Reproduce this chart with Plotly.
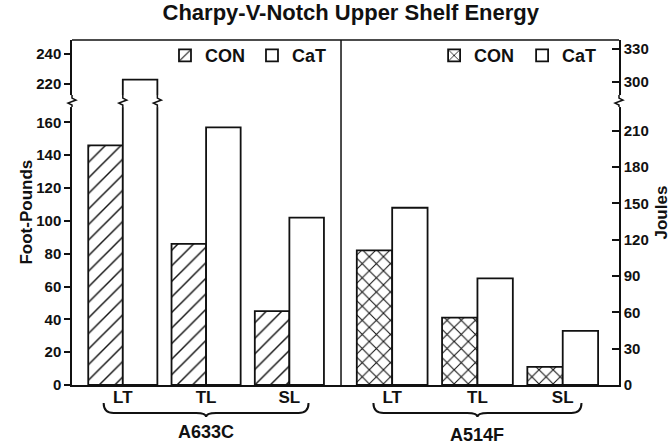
import plotly.graph_objects as go

# Charpy V-notch upper shelf energy, foot-pounds
ORIENTATIONS = ["LT", "TL", "SL"]
A633C_CON = [146, 86, 45]
A633C_CAT = [223, 157, 102]
A514F_CON = [82, 41, 11]
A514F_CAT = [108, 65, 33]

SERIES_NAMES = ["CON", "CaT"]
STEELS = ["A633C", "A514F"]

FTLB_TO_J = 1.3558

LEFT_TICKS_LOW = [0, 20, 40, 60, 80, 100, 120, 140, 160]
LEFT_TICKS_HIGH = [220, 240]
RIGHT_TICKS_LOW = [0, 30, 60, 90, 120, 150, 180, 210]
RIGHT_TICKS_HIGH = [300, 330]

# broken value axis: lower and upper segments
LOW_RANGE = [0, 173]
HIGH_RANGE = [208.7, 249.3]
BREAK = 0.823      # paper height of the axis break
SPLIT = 0.4918     # paper x of the divider between the two steels
BARGAP = 0.17

FONT = "Liberation Sans, Arial, Helvetica, sans-serif"
INK = "#111111"
EDGE = 1.8

pos = list(range(len(ORIENTATIONS)))
fig = go.Figure()

panels = [
    ("x", "x3", A633C_CON, A633C_CAT, "/", 11, 0.13, "legend"),
    ("x2", "x4", A514F_CON, A514F_CAT, "x", 10, 0.2, "legend2"),
]

for xa, xa_hi, con, cat, shape, psize, psol, leg in panels:
    con_marker = dict(
        color="white",
        line=dict(color=INK, width=EDGE),
        pattern=dict(shape=shape, fgcolor=INK, bgcolor="white",
                     size=psize, solidity=psol, fillmode="replace"),
    )
    cat_marker = dict(color="white", line=dict(color=INK, width=EDGE))
    for x_ax, y_ax, show in [(xa, "y", True), (xa_hi, "y3", False)]:
        fig.add_trace(go.Bar(x=pos, y=con, name=SERIES_NAMES[0], marker=con_marker,
                             xaxis=x_ax, yaxis=y_ax, showlegend=show, legend=leg,
                             hoverinfo="skip"))
        fig.add_trace(go.Bar(x=pos, y=cat, name=SERIES_NAMES[1], marker=cat_marker,
                             xaxis=x_ax, yaxis=y_ax, showlegend=show, legend=leg,
                             hoverinfo="skip"))

# empty traces so the Joules axes are laid out
for x_ax, y_ax in [("x2", "y2"), ("x4", "y4")]:
    fig.add_trace(go.Scatter(x=[None], y=[None], xaxis=x_ax, yaxis=y_ax, mode="markers",
                             showlegend=False, hoverinfo="skip"))

tickfont = dict(family=FONT, size=15, color=INK, weight="bold")
catfont = dict(family=FONT, size=17, color=INK, weight="bold")

xcommon = dict(range=[-0.61, 2.62], tickmode="array", tickvals=pos, ticktext=ORIENTATIONS,
               showgrid=False, zeroline=False, ticks="", tickfont=catfont,
               ticklabelstandoff=-4,
               showline=True, linecolor=INK, linewidth=1.5, fixedrange=True)

ycommon = dict(showgrid=False, zeroline=False, showline=True, linecolor=INK, linewidth=1.5,
               tickfont=tickfont, tickcolor=INK, tickwidth=1.5, fixedrange=True)

legfont = dict(family=FONT, size=18, color=INK, weight="bold")

fig.update_layout(
    width=672, height=445,
    margin=dict(l=72, r=53, t=40, b=60),
    paper_bgcolor="white", plot_bgcolor="white",
    barmode="group", bargap=BARGAP, bargroupgap=0,
    title=dict(text="Charpy-V-Notch Upper Shelf Energy", x=0.522, xanchor="center",
               y=0.99, yanchor="top",
               font=dict(family=FONT, size=22, color=INK, weight="bold")),
    xaxis=dict(domain=[0, SPLIT], anchor="y", **xcommon),
    xaxis2=dict(domain=[SPLIT, 1], anchor="y", **{**xcommon, "range": [-0.6, 2.66]}),
    xaxis3=dict(domain=[0, SPLIT], anchor="y3", matches="x", visible=False),
    xaxis4=dict(domain=[SPLIT, 1], anchor="y3", matches="x2", visible=False),
    yaxis=dict(domain=[0, BREAK], anchor="x", range=LOW_RANGE, tickvals=LEFT_TICKS_LOW,
               ticks="outside", ticklen=6, **ycommon),
    yaxis3=dict(domain=[BREAK, 1], anchor="x3", range=HIGH_RANGE, tickvals=LEFT_TICKS_HIGH,
                ticks="outside", ticklen=6, **ycommon),
    yaxis2=dict(overlaying="y", side="right", anchor="x2",
                range=[v * FTLB_TO_J for v in LOW_RANGE], tickvals=RIGHT_TICKS_LOW,
                ticks="inside", ticklen=7, **ycommon),
    yaxis4=dict(overlaying="y3", side="right", anchor="x4",
                range=[v * FTLB_TO_J for v in HIGH_RANGE], tickvals=RIGHT_TICKS_HIGH,
                ticks="inside", ticklen=7, **ycommon),
    legend=dict(orientation="h", x=0.17, xanchor="left", y=1.008, yanchor="top",
                bgcolor="rgba(0,0,0,0)", entrywidth=42, entrywidthmode="pixels",
                font=legfont),
    legend2=dict(orientation="h", x=0.662, xanchor="left", y=1.008, yanchor="top",
                 bgcolor="rgba(0,0,0,0)", entrywidth=43, entrywidthmode="pixels",
                 font=legfont),
    showlegend=True,
)

shapes = [
    dict(type="line", xref="paper", yref="paper", x0=0, x1=1, y0=1, y1=1,
         line=dict(color=INK, width=1.5)),
    dict(type="line", xref="paper", yref="paper", x0=SPLIT, x1=SPLIT, y0=0, y1=1,
         line=dict(color=INK, width=1.5)),
]


def kink(xref, xval):
    """Small break mark on a vertical line at the axis break."""
    base = dict(xref=xref, yref="paper", xsizemode="pixel", ysizemode="pixel",
                xanchor=xval, yanchor=BREAK)
    return [
        dict(type="line", x0=0, x1=0, y0=-6, y1=6, line=dict(color="white", width=4), **base),
        dict(type="path", path="M0,6 L0,3 L4,1 L-4,-2 L0,-4 L0,-6",
             line=dict(color=INK, width=1.5), **base),
    ]


half = (1 - BARGAP) / 2
shapes += kink("paper", 0)
shapes += kink("paper", 1)
shapes += kink("x", pos[0])
shapes += kink("x", pos[0] + half)


def brace(xref, center, half_w):
    c, h, e = center, half_w, 0.12
    path = (f"M{c-h},-18 Q{c-h},-28 {c-h+e},-28 L{c-e},-28 Q{c},-28 {c},-32 "
            f"Q{c},-28 {c+e},-28 L{c+h-e},-28 Q{c+h},-28 {c+h},-18")
    return dict(type="path", xref=xref, yref="paper", ysizemode="pixel", yanchor=0,
                path=path, line=dict(color=INK, width=2))


shapes.append(brace("x", pos[1], 1.23))
shapes.append(brace("x2", pos[1], 1.22))

grpfont = dict(family=FONT, size=18, color=INK, weight="bold")
titlefont = dict(family=FONT, size=17, color=INK, weight="bold")
annotations = [
    dict(text=STEELS[0], xref="x", yref="paper", x=pos[1], y=0, yshift=-47,
         xanchor="center", yanchor="middle", showarrow=False, font=grpfont),
    dict(text=STEELS[1], xref="x2", yref="paper", x=pos[1], y=0, yshift=-50,
         xanchor="center", yanchor="middle", showarrow=False, font=grpfont),
    dict(text="Foot-Pounds", xref="paper", yref="paper", x=-0.084, y=0.5, textangle=-90,
         xanchor="center", yanchor="middle", showarrow=False, font=titlefont),
    dict(text="Joules", xref="paper", yref="paper", x=1.0786, y=0.5, textangle=-90,
         xanchor="center", yanchor="middle", showarrow=False, font=titlefont),
]

fig.update_layout(shapes=shapes, annotations=annotations)
fig.write_html("out.html")
